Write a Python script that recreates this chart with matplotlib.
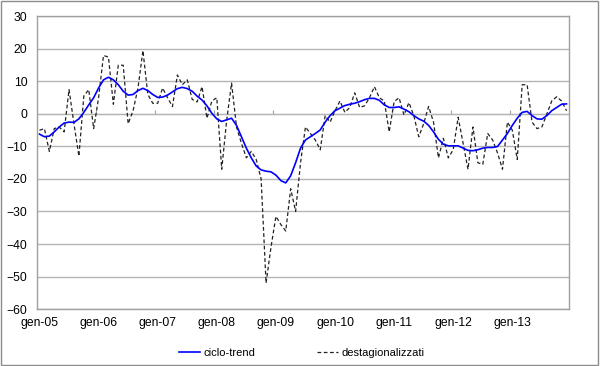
import matplotlib
matplotlib.use("Agg")
import matplotlib.pyplot as plt
import numpy as np
from matplotlib.patches import Rectangle

# mesi da gen-05 a dic-13
anni = ['05', '06', '07', '08', '09', '10', '11', '12', '13']
etichette = ['gen-' + a for a in anni]

destagionalizzati = [
    -5, -4.5, -11.5, -4.5, -4, -5.5, 7.5, -3, -13, 5.5, 7.5, -4.5,
    5, 18, 17.5, 3, 15, 15, -3, 1, 8, 19.5, 6, 3.3,
    3.3, 8, 5, 2.3, 12, 9, 10.5, 4.5, 3.7, 8.4, -1.3, 4,
    5, -17, -2, 9.5, -4, -9, -13.5, -11.5, -14, -20, -52, -41,
    -31.5, -34, -36, -23, -30, -15, -4, -6, -8, -11, -0.5, -2.5,
    1, 4, 0.5, 2, 6.5, 2, 2.5, 5, 8.4, 5, 4, -5.5,
    3.8, 5, -0.3, 3.5, -0.5, -7, -3, 2.3, -2.5, -13.5, -7.5, -13.5,
    -11, -1, -9, -17, -4, -15, -15.5, -6, -8, -12, -17, -2.5,
    -5, -14, 9, 9, -2.5, -4.5, -4, 0, 4, 5.3, 4, 1,
]

ciclo_trend = [
    -6.2, -7, -6.8, -5.5, -4, -2.8, -2.5, -2.6, -1.5, 0.5, 2.8, 5,
    8, 10.5, 11.3, 10.5, 9, 7, 5.8, 6, 7.2, 7.9, 7.2, 6,
    5.1, 5.2, 5.8, 6.8, 7.8, 8.2, 7.8, 7, 5.5, 4.3, 2.5, 0.2,
    -1.5, -2.3, -1.8, -1.3, -3.5, -7, -10.5, -13.5, -16, -17.2, -17.6, -17.8,
    -18.8, -20.5, -21.2, -19, -15, -10.5, -8, -7, -6, -4.9, -2.5, -0.5,
    1, 1.8, 2.6, 3, 3.3, 3.8, 4.4, 4.8, 4.8, 4.2, 2.8, 2,
    2, 2.2, 1.5, 0.7, -0.5, -1.5, -2.2, -3.5, -5.5, -7.8, -9.3, -9.8,
    -9.8, -9.8, -10.5, -11.2, -11.3, -11, -10.5, -10.3, -10.3, -10, -8, -6,
    -3.5, -1.3, 0.5, 0.8, -0.5, -1.5, -1.6, -0.5, 1, 2, 3, 3.1,
]

plt.rcParams['font.family'] = ['Liberation Sans', 'DejaVu Sans']

x = np.arange(len(ciclo_trend))

fig = plt.figure(figsize=(6, 3.66), dpi=100)
ax = fig.add_axes([0.0617, 0.1557, 0.8866, 0.7993])

ax.plot(x, ciclo_trend, color='#0000ff', lw=1.2, label='ciclo-trend', zorder=4)
ax.plot(x, destagionalizzati, color='#222222', lw=0.9, linestyle=(0, (3, 2)),
        label='destagionalizzati', zorder=3)

ax.set_xlim(-0.5, len(x) - 0.5)
ax.set_ylim(-60, 30)
ax.set_yticks(np.arange(-60, 31, 10))
ax.yaxis.grid(True, color='#b4b4b4', lw=1)
ax.set_axisbelow(True)
ax.tick_params(axis='y', length=0, pad=7, labelsize=8.7)

ax.set_xticks(x[::12])
ax.set_xticklabels(etichette)
ax.tick_params(axis='x', length=0, pad=6, labelsize=8.7)

for s in ax.spines.values():
    s.set_color('#a0a0a0')
    s.set_linewidth(1)

# asse orizzontale sullo zero con tacche tra gli anni
asse0 = ax.secondary_xaxis(2 / 3)
asse0.set_xticks(x[::12][1:] - 0.5)
asse0.set_xticklabels([])
asse0.tick_params(axis='x', direction='out', length=3, color='#a0a0a0')
asse0.spines['bottom'].set_color('#a0a0a0')
asse0.spines['top'].set_color('#a0a0a0')

fig.legend(loc='center', bbox_to_anchor=(0.503, 0.036), ncol=2, frameon=False,
           fontsize=8, handlelength=1.9, handletextpad=0.25, columnspacing=5.6)

fig.patches.append(Rectangle((0.002, 0.003), 0.994, 0.994, transform=fig.transFigure,
                             fill=False, edgecolor='#8c8c8c', lw=1))

fig.savefig('out.png', dpi=100)
